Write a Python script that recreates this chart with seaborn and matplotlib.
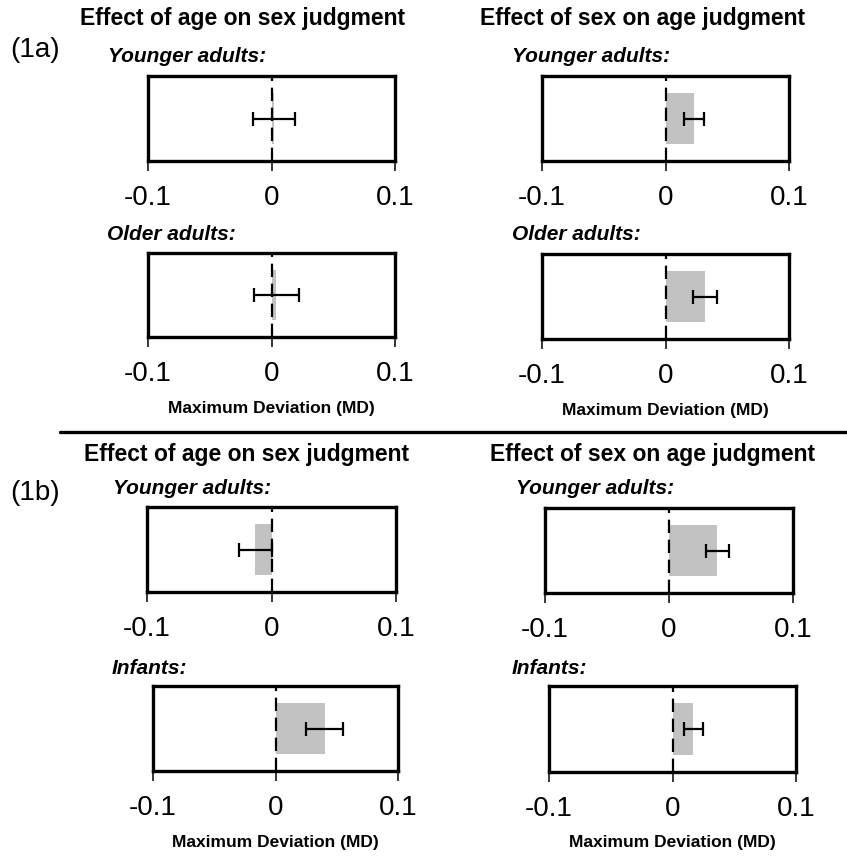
import numpy as np
import pandas as pd
import matplotlib.pyplot as plt
import seaborn as sns
from matplotlib.lines import Line2D

# values (Maximum Deviation, mean and error)
groups_1a = ['Younger adults:', 'Older adults:']
groups_1b = ['Younger adults:', 'Infants:']

age_on_sex_1a = [0.002, 0.004]
age_on_sex_1a_err = [0.017, 0.018]
sex_on_age_1a = [0.023, 0.032]
sex_on_age_1a_err = [0.008, 0.010]

age_on_sex_1b = [-0.013, 0.040]
age_on_sex_1b_err = [0.013, 0.015]
sex_on_age_1b = [0.039, 0.017]
sex_on_age_1b_err = [0.009, 0.008]

tick_values = [-0.1, 0, 0.1]
tick_labels = ['-0.1', '0', '0.1']
xlabel = 'Maximum Deviation (MD)'
title_age_sex = 'Effect of age on sex judgment'
title_sex_age = 'Effect of sex on age judgment'

sns.set_theme(style='white')
plt.rcParams['font.family'] = ['Liberation Sans', 'DejaVu Sans']
plt.rcParams['text.color'] = 'black'
plt.rcParams['axes.labelcolor'] = 'black'
plt.rcParams['xtick.color'] = 'black'

W, H = 847, 858
fig = plt.figure(figsize=(W / 100, H / 100), dpi=100)


def px_box(x0, x1, y0, y1):
    return [x0 / W, 1 - y1 / H, (x1 - x0) / W, (y1 - y0) / H]


def ftext(x, y, s, **kw):
    fig.text(x / W, 1 - y / H, s, va='center', ha=kw.pop('ha', 'left'), **kw)


def draw_panel(rect, group, mean, err, show_xlabel):
    ax = fig.add_axes(px_box(*rect))
    df = pd.DataFrame({'grp': [group], 'md': [mean]})
    sns.barplot(data=df, x='md', y='grp', color='#c2c2c2', width=0.6,
                saturation=1, edgecolor='none', ax=ax)
    ax.errorbar(mean, 0, xerr=err, color='black', lw=1.6, capsize=5,
                capthick=1.6)
    ax.axvline(0, color='black', lw=1.6, ls=(0, (6, 3)))
    ax.set_xlim(-0.1, 0.1)
    ax.set_ylim(0.5, -0.5)
    ax.set_yticks([])
    ax.set_ylabel('')
    ax.set_xticks(tick_values)
    ax.set_xticklabels(tick_labels, fontsize=20)
    ax.tick_params(axis='x', bottom=True, direction='out', length=7,
                   width=1.1, pad=10, color='black')
    for sp in ax.spines.values():
        sp.set_visible(True)
        sp.set_color('black')
        sp.set_linewidth(2.4)
    if show_xlabel:
        ax.set_xlabel(xlabel, fontsize=12.5, fontweight='bold', labelpad=10)
    else:
        ax.set_xlabel('')
    return ax


# (1a)
draw_panel((148, 395, 76, 161), groups_1a[0], age_on_sex_1a[0], age_on_sex_1a_err[0], False)
draw_panel((148, 395, 253, 337), groups_1a[1], age_on_sex_1a[1], age_on_sex_1a_err[1], True)
draw_panel((542, 789, 76, 161), groups_1a[0], sex_on_age_1a[0], sex_on_age_1a_err[0], False)
draw_panel((542, 789, 254, 339), groups_1a[1], sex_on_age_1a[1], sex_on_age_1a_err[1], True)
# (1b)
draw_panel((147, 396, 507, 592), groups_1b[0], age_on_sex_1b[0], age_on_sex_1b_err[0], False)
draw_panel((153, 398, 686, 771), groups_1b[1], age_on_sex_1b[1], age_on_sex_1b_err[1], True)
draw_panel((545, 793, 508, 593), groups_1b[0], sex_on_age_1b[0], sex_on_age_1b_err[0], False)
draw_panel((549, 796, 686, 772), groups_1b[1], sex_on_age_1b[1], sex_on_age_1b_err[1], True)

# titles and labels
title_kw = dict(fontsize=16.5, fontweight='bold')
ftext(80, 18, title_age_sex, **title_kw)
ftext(480, 18, title_sex_age, **title_kw)
ftext(84, 455, title_age_sex, **title_kw)
ftext(490, 455, title_sex_age, **title_kw)
ftext(10, 50, '(1a)', fontsize=20)
ftext(10, 493, '(1b)', fontsize=20)

sub = dict(fontsize=15, fontweight='bold', style='italic')
ftext(108, 57, groups_1a[0], **sub)
ftext(107, 235, groups_1a[1], **sub)
ftext(512, 57, groups_1a[0], **sub)
ftext(512, 235, groups_1a[1], **sub)
ftext(113, 489, groups_1b[0], **sub)
ftext(112, 668, groups_1b[1], **sub)
ftext(516, 489, groups_1b[0], **sub)
ftext(512, 668, groups_1b[1], **sub)

# separator between (1a) and (1b)
fig.add_artist(Line2D([60 / W, 1.0], [1 - 432 / H, 1 - 432 / H],
                      color='black', lw=2.4))

plt.savefig('out.png', dpi=100)
plt.close()
